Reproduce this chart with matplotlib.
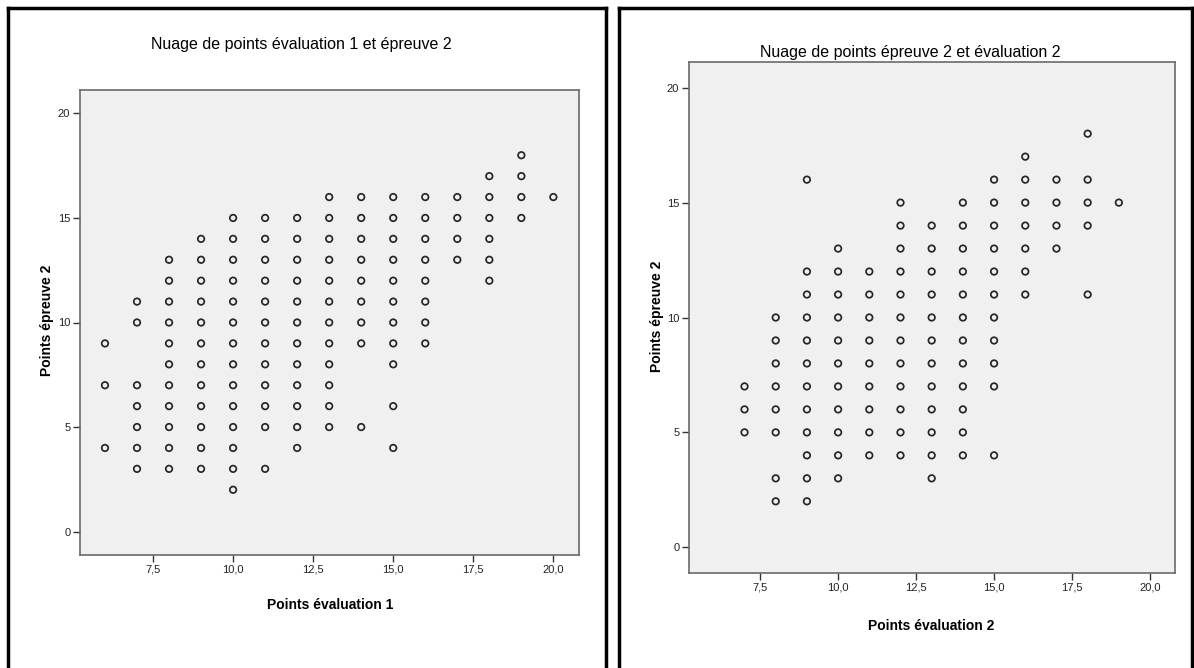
import matplotlib
matplotlib.use('Agg')
import matplotlib.pyplot as plt
from matplotlib.lines import Line2D
from matplotlib.ticker import FuncFormatter

# ------------------------------------------------------------
# Data: for each x value, the y values present
# ------------------------------------------------------------
# left: Points évaluation 1 (x) vs Points épreuve 2 (y)
eval1_cols = {
    6: [9, 7, 4],
    7: [11, 10, 7, 6, 5, 4, 3],
    8: [13, 12, 11, 10, 9, 8, 7, 6, 5, 4, 3],
    9: [14, 13, 12, 11, 10, 9, 8, 7, 6, 5, 4, 3],
    10: [15, 14, 13, 12, 11, 10, 9, 8, 7, 6, 5, 4, 3, 2],
    11: [15, 14, 13, 12, 11, 10, 9, 8, 7, 6, 5, 3],
    12: [15, 14, 13, 12, 11, 10, 9, 8, 7, 6, 5, 4],
    13: [16, 15, 14, 13, 12, 11, 10, 9, 8, 7, 6, 5],
    14: [16, 15, 14, 13, 12, 11, 10, 9, 5],
    15: [16, 15, 14, 13, 12, 11, 10, 9, 8, 6, 4],
    16: [16, 15, 14, 13, 12, 11, 10, 9],
    17: [16, 15, 14, 13],
    18: [17, 16, 15, 14, 13, 12],
    19: [18, 17, 16, 15],
    20: [16],
}

# right: Points évaluation 2 (x) vs Points épreuve 2 (y)
eval2_cols = {
    7: [7, 6, 5],
    8: [10, 9, 8, 7, 6, 5, 3, 2],
    9: [16, 12, 11, 10, 9, 8, 7, 6, 5, 4, 3, 2],
    10: [13, 12, 11, 10, 9, 8, 7, 6, 5, 4, 3],
    11: [12, 11, 10, 9, 8, 7, 6, 5, 4],
    12: [15, 14, 13, 12, 11, 10, 9, 8, 7, 6, 5, 4],
    13: [14, 13, 12, 11, 10, 9, 8, 7, 6, 5, 4, 3],
    14: [15, 14, 13, 12, 11, 10, 9, 8, 7, 6, 5, 4],
    15: [16, 15, 14, 13, 12, 11, 10, 9, 8, 7, 4],
    16: [17, 16, 15, 14, 13, 12, 11],
    17: [16, 15, 14, 13],
    18: [18, 16, 15, 14, 11],
    19: [15],
}

x_ticks = [7.5, 10.0, 12.5, 15.0, 17.5, 20.0]
y_ticks = [0, 5, 10, 15, 20]

titles = ['Nuage de points évaluation 1 et épreuve 2',
          'Nuage de points épreuve 2 et évaluation 2']
xlabels = ['Points évaluation 1', 'Points évaluation 2']
ylabel = 'Points épreuve 2'

NARROW = ['Liberation Sans Narrow', 'Liberation Sans', 'DejaVu Sans']
BOLD = ['Liberation Sans', 'DejaVu Sans']

W, H = 1194, 668


def px_axes(l, t, r, b):
    return [l / W, 1 - b / H, (r - l) / W, (b - t) / H]


def flatten(cols):
    xs, ys = [], []
    for k, vals in cols.items():
        for v in vals:
            xs.append(k)
            ys.append(v)
    return xs, ys


fig = plt.figure(figsize=(W / 100, H / 100), dpi=100)

# panel frames (black boxes)
for (l, r) in [(8, 606), (619, 1192)]:
    for xs, ys in [([l, l], [8, H + 5]), ([r, r], [8, H + 5]), ([l, r], [8, 8])]:
        fig.add_artist(Line2D([x / W for x in xs], [1 - y / H for y in ys],
                              color='black', lw=2.5, transform=fig.transFigure))

ax_boxes = [px_axes(80, 90, 579, 555), px_axes(689, 62, 1175, 573)]
data = [eval1_cols, eval2_cols]
title_pos = [(301, 45), (910, 52)]
xlabel_pos = [(330, 605), (931, 626)]
ylabel_pos = [(47, 320), (657, 316)]

fmt = FuncFormatter(lambda v, p: f'{v:.1f}'.replace('.', ','))

for i in range(2):
    ax = fig.add_axes(ax_boxes[i])
    ax.set_facecolor('#f0f0f0')
    xs, ys = flatten(data[i])
    ax.scatter(xs, ys, s=22, facecolors='none', edgecolors='#262626',
               linewidths=1.25, zorder=3)
    ax.set_xlim(5.22, 20.8)
    ax.set_ylim(-1.12, 21.12)
    ax.set_xticks(x_ticks)
    ax.set_yticks(y_ticks)
    ax.xaxis.set_major_formatter(fmt)
    for sp in ax.spines.values():
        sp.set_color('#6a6a6a')
        sp.set_linewidth(1.2)
    ax.tick_params(direction='out', length=5, width=1, color='#333333',
                   labelsize=8, pad=2)
    for lab in ax.get_xticklabels() + ax.get_yticklabels():
        lab.set_family(NARROW)
        lab.set_color('#222222')

    tx, ty = title_pos[i]
    fig.text(tx / W, 1 - ty / H, titles[i], ha='center', va='center',
             fontsize=11.5, family=NARROW, color='black')
    lx, ly = xlabel_pos[i]
    fig.text(lx / W, 1 - ly / H, xlabels[i], ha='center', va='center',
             fontsize=10, fontweight='bold', family=NARROW, color='black')
    yx, yy = ylabel_pos[i]
    fig.text(yx / W, 1 - yy / H, ylabel, ha='center', va='center',
             rotation=90, fontsize=10, fontweight='bold', family=BOLD,
             color='black')

fig.savefig('out.png', dpi=100)
